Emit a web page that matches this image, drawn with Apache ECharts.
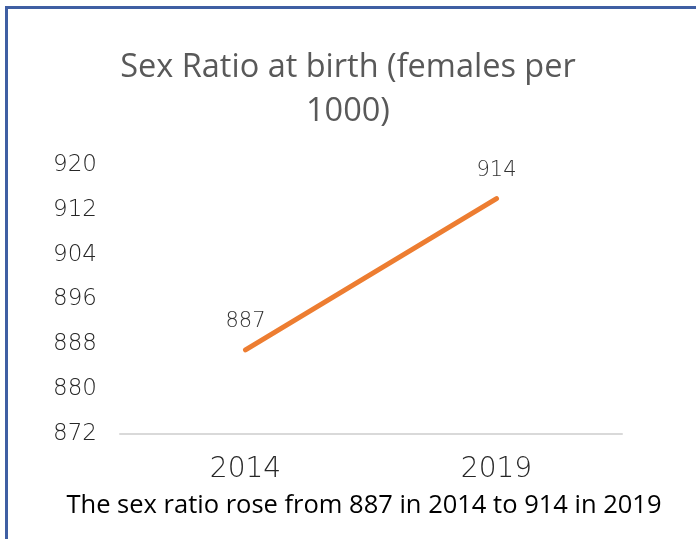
<!DOCTYPE html>
<html>
<head>
<meta charset="utf-8">
<script src="https://cdn.jsdelivr.net/npm/echarts@6/dist/echarts.min.js"></script>
<style>
  html, body { margin: 0; padding: 0; background: #fff; }
  #frame {
    position: absolute; left: 5px; top: 6px; width: 700px; height: 540px;
    border-left: 3px solid #3f5fa3; border-top: 3px solid #3f5fa3;
    box-sizing: border-box;
  }
  #chart { position: absolute; left: 0; top: 0; width: 696px; height: 539px; }
</style>
</head>
<body>
<div id="frame"></div>
<div id="chart"></div>
<script>
// data
const years = ['2014', '2019'];
const sexRatio = [887, 914];
const yTicks = [872, 880, 888, 896, 904, 912, 920];

const chart = echarts.init(document.getElementById('chart'));

const options = {
  animation: false,
  title: [
    {
      text: 'Sex Ratio at birth (females per\n1000)',
      left: 343,
      textAlign: 'center',
      top: 41,
      textStyle: {
        fontFamily: 'Open Sans',
        fontSize: 32.5,
        fontWeight: 'normal',
        color: '#595959',
        lineHeight: 44,
        align: 'center'
      }
    },
    {
      text: 'The sex ratio rose from 887 in 2014 to 914 in 2019',
      left: 359,
      textAlign: 'center',
      top: 488,
      textStyle: {
        fontFamily: 'Open Sans',
        fontSize: 25.5,
        fontWeight: 'normal',
        color: '#000'
      }
    }
  ],
  grid: {
    left: 120,
    right: 74,
    top: 165,
    bottom: 105
  },
  xAxis: {
    type: 'category',
    data: years,
    boundaryGap: true,
    axisTick: { show: false },
    axisLine: { lineStyle: { color: '#d9d9d9', width: 2 } },
    axisLabel: {
      margin: 22,
      fontFamily: 'DejaVu Sans',
      fontWeight: 200,
      fontSize: 28,
      color: '#262626'
    }
  },
  yAxis: {
    type: 'value',
    min: yTicks[0],
    max: yTicks[yTicks.length - 1],
    interval: 8,
    axisLine: { show: false },
    axisTick: { show: false },
    splitLine: { show: false },
    axisLabel: {
      margin: 23,
      fontFamily: 'DejaVu Sans',
      fontWeight: 200,
      fontSize: 23,
      color: '#262626'
    }
  },
  series: [
    {
      name: 'Sex ratio',
      type: 'line',
      data: sexRatio,
      symbol: 'circle',
      symbolSize: 2,
      showSymbol: true,
      itemStyle: { color: 'rgba(237,125,49,0)' },
      lineStyle: { color: '#ed7d31', width: 5, cap: 'round' },
      label: {
        show: true,
        position: 'top',
        distance: 17,
        fontFamily: 'DejaVu Sans',
        fontWeight: 200,
        fontSize: 21,
        color: '#333'
      }
    }
  ]
};

chart.setOption(options);
</script>
</body>
</html>
